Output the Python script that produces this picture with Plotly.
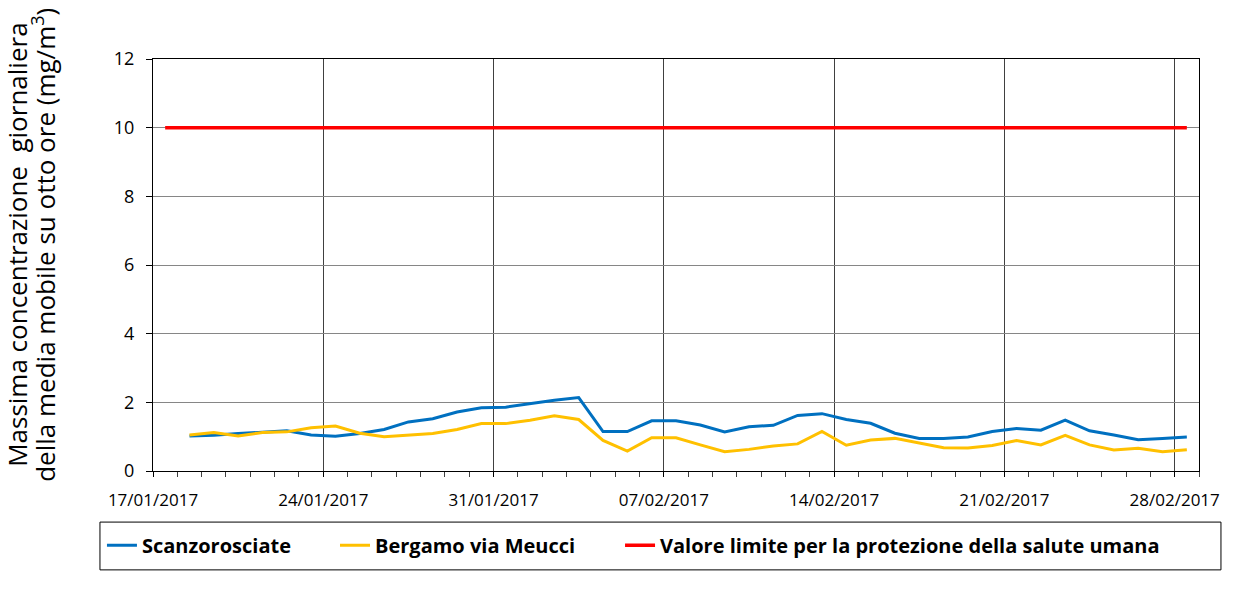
import plotly.graph_objects as go
import pandas as pd

# daily values, 18/01/2017 -> 28/02/2017 (points plotted at midday)
days = pd.date_range("2017-01-18 12:00", "2017-02-28 12:00", freq="D")
limit_days = pd.date_range("2017-01-17 12:00", "2017-02-28 12:00", freq="D")

scanzorosciate = [1.02, 1.04, 1.09, 1.14, 1.17, 1.05, 1.01, 1.09, 1.21, 1.43,
                  1.52, 1.72, 1.84, 1.86, 1.97, 2.06, 2.14, 1.15, 1.15, 1.46,
                  1.46, 1.34, 1.14, 1.29, 1.33, 1.62, 1.67, 1.50, 1.39, 1.10,
                  0.95, 0.95, 0.99, 1.15, 1.24, 1.19, 1.48, 1.17, 1.05, 0.91,
                  0.95, 0.99]
bergamo_meucci = [1.05, 1.12, 1.02, 1.12, 1.14, 1.26, 1.31, 1.10, 1.00, 1.04,
                  1.09, 1.21, 1.38, 1.38, 1.48, 1.61, 1.50, 0.89, 0.58, 0.97,
                  0.97, 0.76, 0.56, 0.63, 0.73, 0.79, 1.15, 0.75, 0.90, 0.95,
                  0.81, 0.68, 0.67, 0.74, 0.89, 0.76, 1.04, 0.76, 0.61, 0.66,
                  0.56, 0.62]
valore_limite = [10] * len(limit_days)

y_title = ["Massima concentrazione  giornaliera",
           "della media mobile su otto ore (mg/m<sup>3</sup>)"]

FONT = "Open Sans"

fig = go.Figure()

fig.add_trace(go.Scatter(x=days, y=scanzorosciate, mode="lines", name="Scanzorosciate",
                         line=dict(color="#0070C0", width=3), legend="legend"))
fig.add_trace(go.Scatter(x=days, y=bergamo_meucci, mode="lines", name="Bergamo via Meucci",
                         line=dict(color="#FFC000", width=3), legend="legend2"))
fig.add_trace(go.Scatter(x=limit_days, y=valore_limite, mode="lines",
                         name="Valore limite per la protezione della salute umana",
                         line=dict(color="#FF0000", width=3.5), legend="legend3"))

# AXES
fig.update_xaxes(type="date", range=["2017-01-17", "2017-03-01"],
                 tick0="2017-01-17", dtick=7 * 86400000, tickformat="%d/%m/%Y",
                 showgrid=True, gridcolor="#404040", gridwidth=1,
                 showline=True, linecolor="black", linewidth=1, mirror=True,
                 ticks="outside", ticklen=5, tickcolor="black", ticklabelstandoff=9,
                 minor=dict(dtick=86400000, ticks="outside", ticklen=5, tickcolor="#404040", showgrid=False),
                 tickfont=dict(family=FONT, size=17, color="black"))
fig.update_yaxes(range=[0, 12], dtick=2, showgrid=True, gridcolor="#868686", gridwidth=1,
                 showline=True, linecolor="black", linewidth=1, mirror=True,
                 ticks="outside", ticklen=6, tickcolor="black", zeroline=False,
                 ticklabelstandoff=8,
                 tickfont=dict(family=FONT, size=18, color="black"))

# y title, two rotated lines
for xp, txt in zip([-0.130, -0.1042], y_title):
    fig.add_annotation(text=txt, xref="paper", yref="paper", x=xp, y=0.549,
                       xanchor="center", yanchor="middle", textangle=-90, showarrow=False,
                       font=dict(family=FONT, size=26, color="black"))

# legend frame
fig.add_shape(type="rect", xref="paper", yref="paper", x0=-0.0507, x1=1.021, y0=-0.240, y1=-0.124,
              line=dict(color="black", width=1), fillcolor="rgba(0,0,0,0)")

leg_font = dict(family=FONT, size=20, color="black", weight="bold")
leg_common = dict(orientation="h", xanchor="left", y=-0.180, yanchor="middle",
                  font=leg_font, bgcolor="rgba(0,0,0,0)", borderwidth=0)

fig.update_layout(
    width=1247, height=601,
    template="plotly_white",
    plot_bgcolor="white", paper_bgcolor="white",
    margin=dict(l=153, r=48, t=59, b=130, pad=0),
    showlegend=True,
    legend=dict(x=-0.0488, **leg_common),
    legend2=dict(x=0.1740, **leg_common),
    legend3=dict(x=0.4465, **leg_common),
)

fig.write_html("out.html", config={"displayModeBar": False},
               post_script="document.body.style.margin='0px';")
